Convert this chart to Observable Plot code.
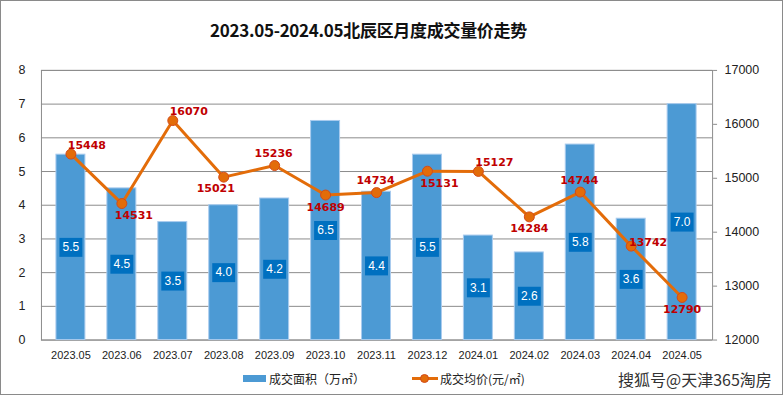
<!DOCTYPE html>
<html>
<head>
<meta charset="utf-8">
<script src="https://cdn.jsdelivr.net/npm/d3@7"></script>
<script src="https://cdn.jsdelivr.net/npm/@observablehq/plot@0.6"></script>
<style>
  html, body { margin: 0; padding: 0; background: #fff; }
  #wrap { position: relative; width: 783px; height: 395px; box-sizing: border-box; border: 1px solid #8a8a8a; overflow: hidden; font-family: "Noto Sans CJK SC", sans-serif; }
  #chart { position: absolute; left: -1px; top: -1px; }
  #title { position: absolute; left: 0; width: 735px; top: 16px; text-align: center; font-size: 17px; font-weight: bold; color: #111; font-family: "Noto Sans CJK SC", sans-serif; letter-spacing: -0.3px; }
  .leg { position: absolute; top: 369px; font-size: 12px; color: #222; font-family: "Noto Sans CJK SC", sans-serif; line-height: 18px; }
  .swatch-bar { position: absolute; width: 23px; height: 7px; background: #4c9ad4; top: 374px; left: 242px; }
  .swatch-line { position: absolute; width: 26px; height: 3px; background: #e36c09; top: 376px; left: 411px; }
  .swatch-dot { position: absolute; width: 9px; height: 9px; border-radius: 50%; background: #e36c09; border: 1px solid #d24a1a; box-sizing: border-box; top: 373px; left: 419px; }
  #mark { position: absolute; left: 617px; top: 366px; font-size: 16px; color: #333; font-family: "Noto Sans CJK SC", sans-serif; }
</style>
</head>
<body>
<div id="wrap">
  <div id="chart"></div>
  <div id="title">2023.05-2024.05北辰区月度成交量价走势</div>
  <div class="swatch-bar"></div>
  <div class="leg" style="left:268px">成交面积（万㎡）</div>
  <div class="swatch-line"></div>
  <div class="swatch-dot"></div>
  <div class="leg" style="left:439px">成交均价(元/㎡)</div>
  <div id="mark">搜狐号@天津365淘房</div>
</div>
<script>
const months = ["2023.05","2023.06","2023.07","2023.08","2023.09","2023.10","2023.11","2023.12","2024.01","2024.02","2024.03","2024.04","2024.05"];
const areaValues = [5.5, 4.5, 3.5, 4.0, 4.2, 6.5, 4.4, 5.5, 3.1, 2.6, 5.8, 3.6, 7.0];
const priceValues = [15448, 14531, 16070, 15021, 15236, 14689, 14734, 15131, 15127, 14284, 14744, 13742, 12790];
const leftTicks = [0, 1, 2, 3, 4, 5, 6, 7, 8];
const rightTicks = [12000, 13000, 14000, 15000, 16000, 17000];
const priceLabelSide = ["ur","dr","ur","dl","u","d","u","dr","ur","d","u","r","d"];

const pMin = 12000, pMax = 17000, aMax = 8;
const toLeft = p => (p - pMin) / (pMax - pMin) * aMax;

const data = months.map((m, i) => ({
  month: m, area: areaValues[i], price: priceValues[i], py: toLeft(priceValues[i]), side: priceLabelSide[i]
}));

const boxSymbol = { draw(ctx) { ctx.rect(-11.5, -9.5, 23, 19); } };

const sides = {
  ur: {dx: 16, dy: -9},
  dr: {dx: 12, dy: 12},
  dl: {dx: -8, dy: 11},
  u:  {dx: -1, dy: -12},
  d:  {dx: 0, dy: 12},
  r:  {dx: 17, dy: -4}
};

const priceText = Object.entries(sides).map(([k, o]) =>
  Plot.text(data.filter(d => d.side === k), {
    x: "month", y: "py", text: d => String(d.price), dx: o.dx, dy: o.dy,
    fill: "#c00000", fontWeight: "bold", fontSize: 11, fontFamily: "DejaVu Sans"
  })
);

const chart = Plot.plot({
  width: 783, height: 395,
  marginTop: 70, marginBottom: 55, marginLeft: 41, marginRight: 70,
  x: { type: "band", domain: months, paddingInner: 0.43, paddingOuter: 0.215 },
  y: { domain: [0, aMax] },
  style: { background: "transparent", fontFamily: "Liberation Sans, sans-serif", color: "#222" },
  marks: [
    Plot.gridY(leftTicks, { stroke: "#8c8c8c", strokeOpacity: 1 }),
    Plot.frame({ stroke: "#8c8c8c" }),
    Plot.barY(data, { x: "month", y: "area", fill: "#4c9ad4", stroke: "#a9cbee", strokeWidth: 1 }),
    Plot.dot(data, { x: "month", y: d => d.area / 2, symbol: boxSymbol, r: 5, fill: "#0070c0", stroke: "none" }),
    Plot.text(data, { x: "month", y: d => d.area / 2, text: d => d.area.toFixed(1), fill: "#fff", fontSize: 12, fontFamily: "Liberation Sans" }),
    Plot.line(data, { x: "month", y: "py", stroke: "#e36c09", strokeWidth: 3 }),
    Plot.dot(data, { x: "month", y: "py", r: 5, fill: "#e36c09", stroke: "#d24a1a", strokeWidth: 1 }),
    ...priceText,
    Plot.axisY(leftTicks, { anchor: "left", tickSize: 0, tickPadding: 16, fontSize: 12.5, label: null }),
    Plot.axisY(rightTicks.map(toLeft), { anchor: "right", tickSize: 4, tickPadding: 8, stroke: "#8c8c8c", fontSize: 12.5, tickFormat: v => String(Math.round(pMin + v / aMax * (pMax - pMin))), label: null }),
    Plot.axisX({ tickSize: 0, tickPadding: 11, fontSize: 11, label: null })
  ]
});
document.getElementById("chart").appendChild(chart);
</script>
</body>
</html>
